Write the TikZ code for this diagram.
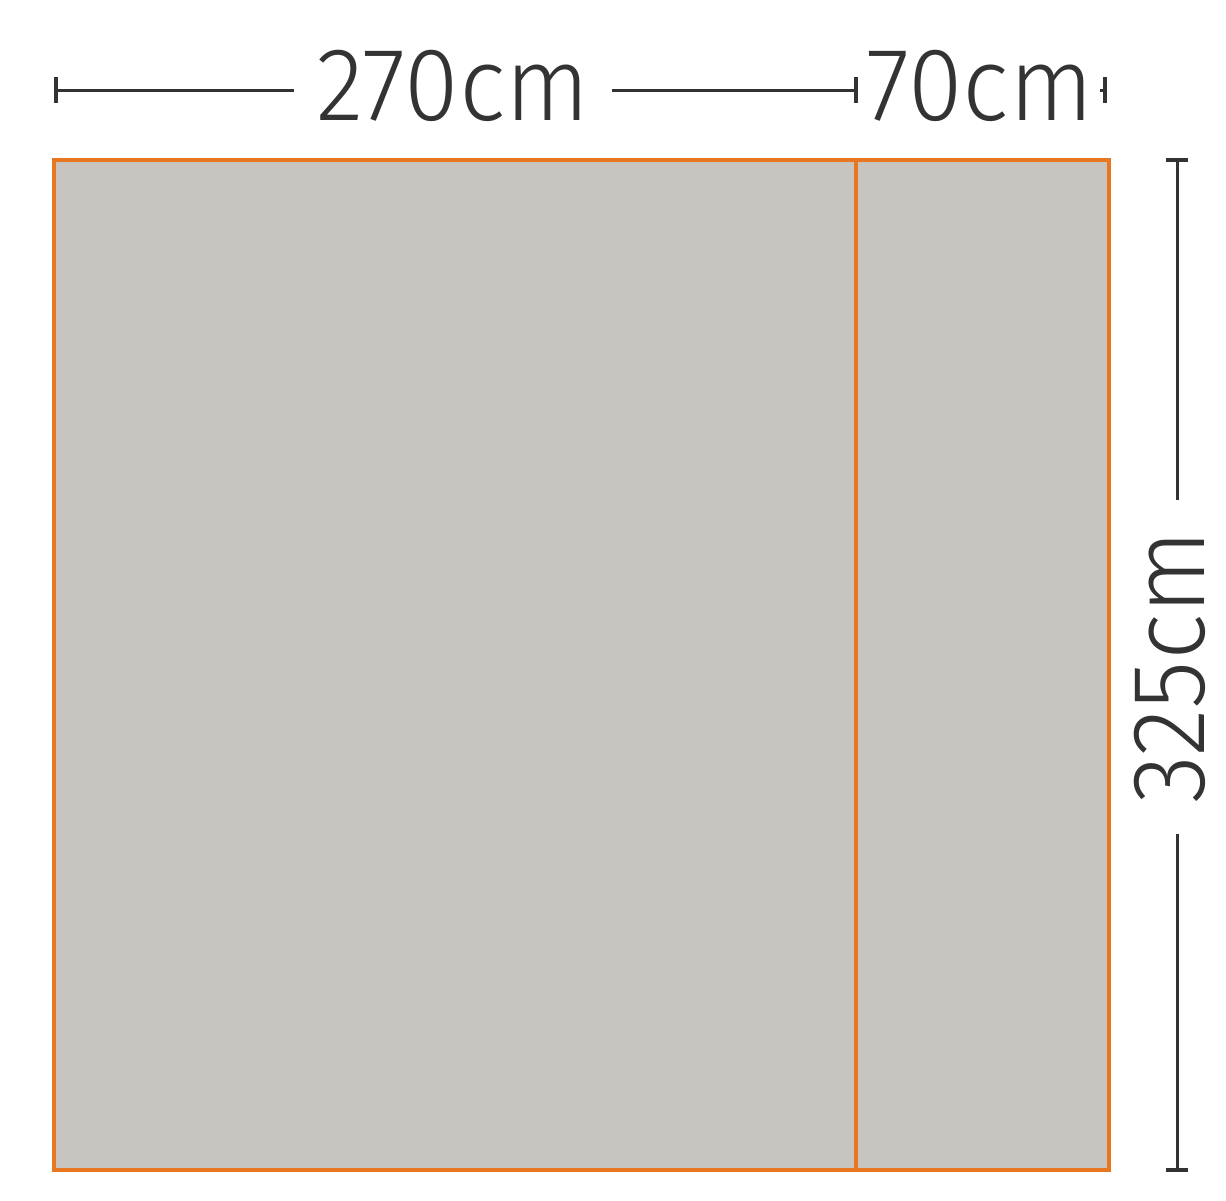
\documentclass[tikz,border=0pt]{standalone}
\usepackage{fontspec}
\newfontfamily\dimfont[FakeStretch=0.95]{Fira Sans Light}
\usepackage{tikz}
\usetikzlibrary{calc}
\usetikzlibrary{positioning}
\definecolor{tarp}{HTML}{C8C4C0}
\definecolor{edge}{HTML}{E87722}
\definecolor{ink}{HTML}{333333}
\tikzstyle{panel} = [draw=edge, fill=tarp, line width=1.6pt]
\tikzstyle{dim} = [-, draw=ink, line width=1.5pt]
\tikzstyle{tick} = [-, draw=ink, line width=2.2pt]
\tikzstyle{size} = [inner ysep=0pt, text=ink, font=\dimfont\fontsize{52}{52}\selectfont]

\begin{document}
\begin{tikzpicture}[x=0.5pt, y=-0.5pt]
\useasboundingbox (0,0) rectangle (1226,1200);
\draw [panel] (54,160) rectangle (856,1170);
\draw [panel] (856,160) rectangle (1109,1170);
\coordinate (L) at (56,90);
\coordinate (M) at (856,90);
\coordinate (R) at (1105,90);
\coordinate (T) at (1177,160);
\coordinate (B) at (1177,1170);
\node [size, anchor=base, inner xsep=11pt] (W1) at (453,120) {270cm};
\node [size, anchor=base, inner xsep=3pt] (W2) at (980,120) {70cm};
\node [size, anchor=base, inner xsep=15pt, rotate=90] (H) at (1204,667) {325cm};
\draw [dim] (L) -- (W1.west |- L);
\draw [dim] (W1.east |- M) -- (M);
\draw [dim] (W2.east |- R) -- (R);
\draw [tick] ($(L)+(0,-13)$) -- ($(L)+(0,13)$);
\draw [tick] ($(M)+(0,-13)$) -- ($(M)+(0,13)$);
\draw [tick] ($(R)+(0,-13)$) -- ($(R)+(0,13)$);
\draw [dim] (T) -- (H.east -| T);
\draw [dim] (H.west -| B) -- (B);
\draw [tick] ($(T)+(-11,0)$) -- ($(T)+(11,0)$);
\draw [tick] ($(B)+(-11,0)$) -- ($(B)+(11,0)$);
\end{tikzpicture}
\end{document}
